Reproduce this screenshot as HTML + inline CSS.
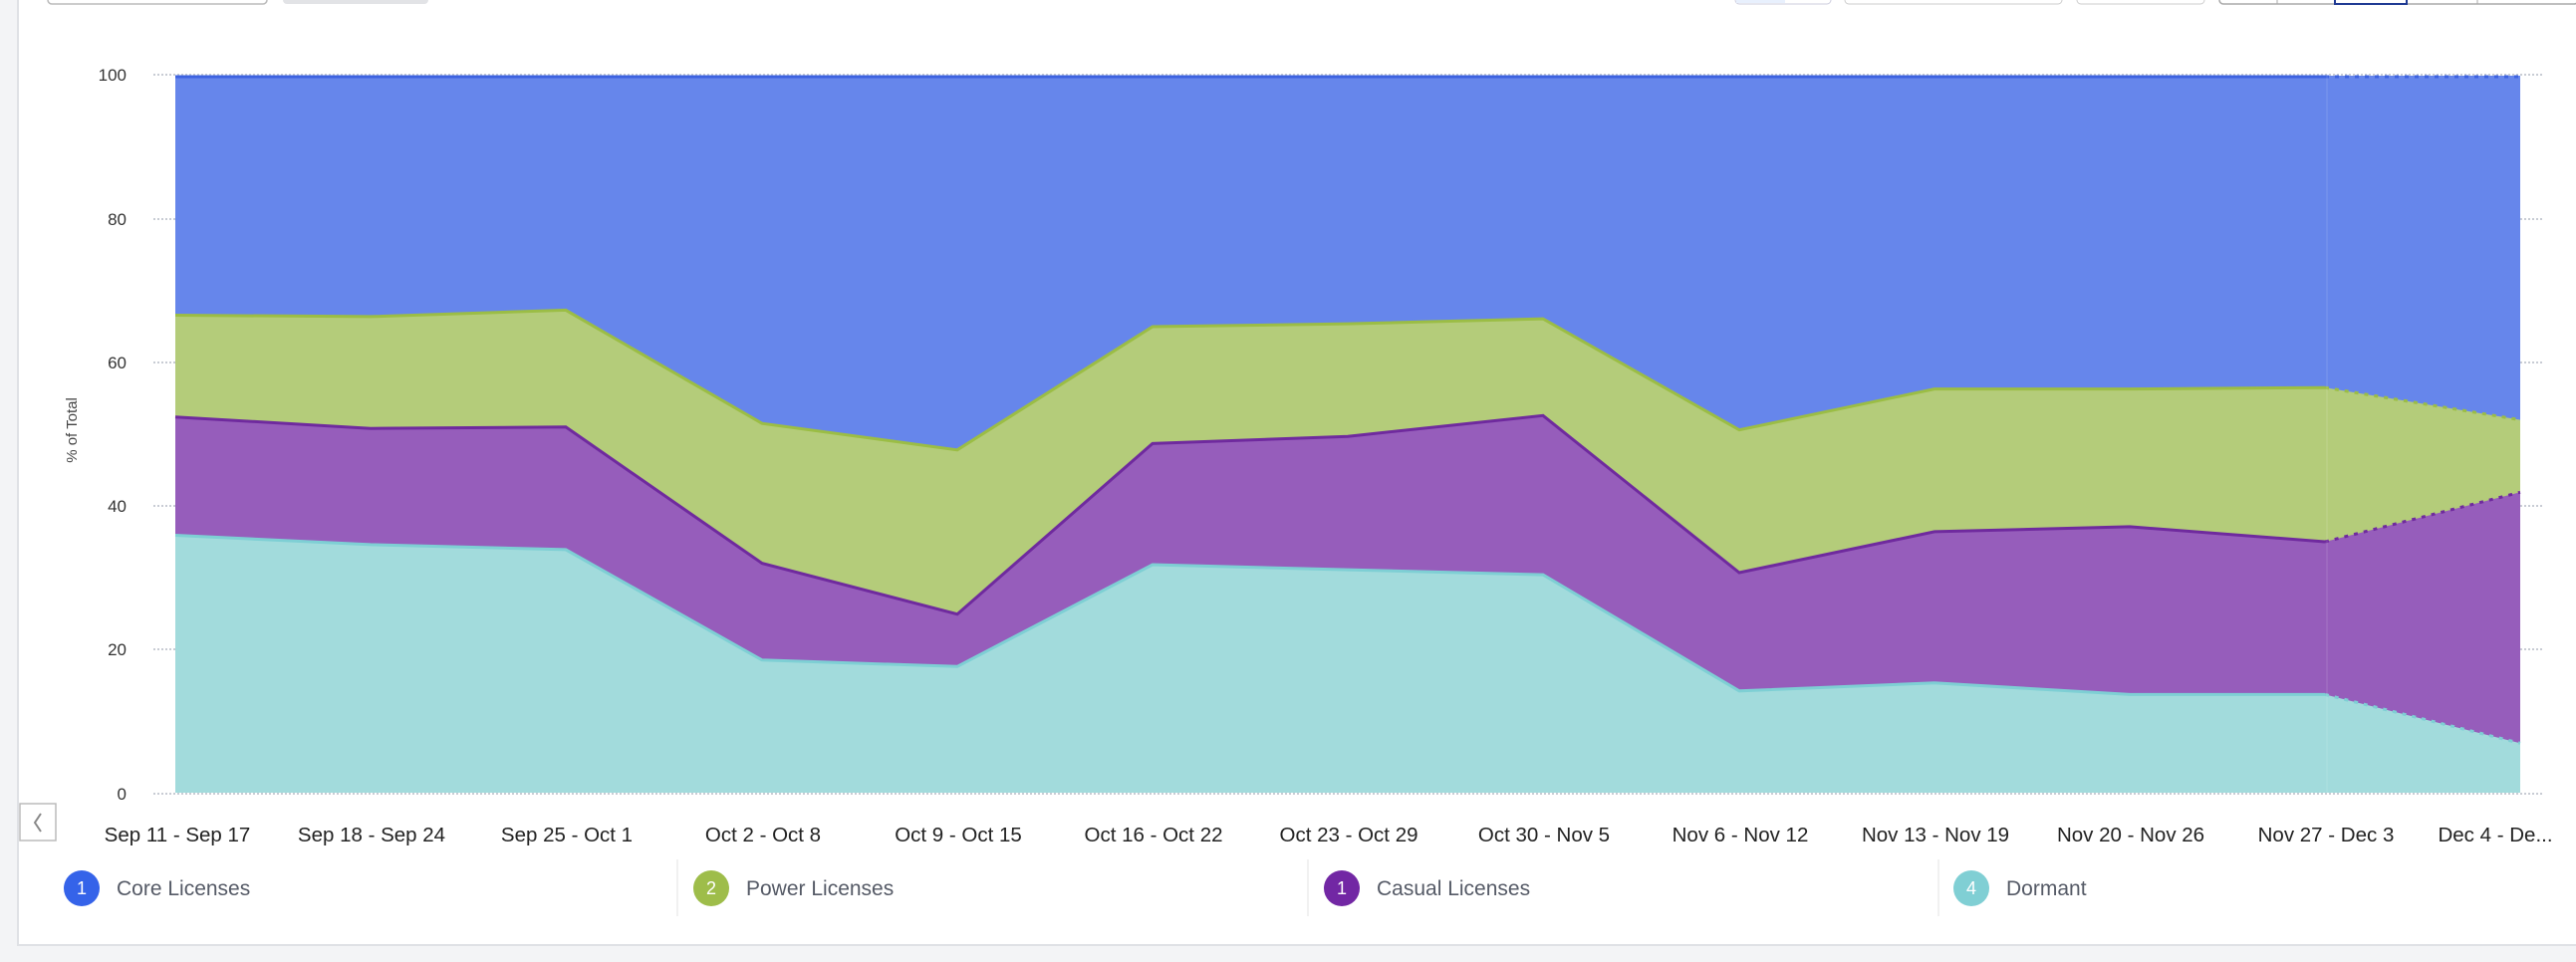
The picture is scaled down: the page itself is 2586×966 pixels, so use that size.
<!DOCTYPE html>
<html><head><meta charset="utf-8"><style>
html,body{margin:0;padding:0;background:#f3f4f6;}
body{width:2586px;height:966px;position:relative;overflow:hidden;font-family:"Liberation Sans",sans-serif;}
</style></head><body>
<svg width="2586" height="966" viewBox="0 0 2586 966" xmlns="http://www.w3.org/2000/svg" style="position:absolute;left:0;top:0">
<rect x="18" y="-2" width="2570" height="951" fill="#fff" stroke="#dfe1e5" stroke-width="2"/>
<rect x="48" y="-10" width="220" height="14" rx="4" fill="#fff" stroke="#bbb" stroke-width="1.5"/>
<rect x="284" y="-10" width="146" height="14" rx="4" fill="#e2e3e6"/>
<rect x="1742" y="-10" width="96" height="14" rx="4" fill="#fff" stroke="#ccd"/>
<rect x="1743" y="-10" width="49" height="13" fill="#e8f0fd"/>
<rect x="1852" y="-10" width="218" height="14" rx="4" fill="#fff" stroke="#ccc"/>
<rect x="2085" y="-10" width="128" height="14" rx="4" fill="#fff" stroke="#ccc"/>
<rect x="2228" y="-10" width="360" height="14" rx="4" fill="#fff" stroke="#aaa" stroke-width="1.5"/>
<line x1="2286" y1="0" x2="2286" y2="4" stroke="#aaa"/><line x1="2344" y1="0" x2="2344" y2="4" stroke="#aaa"/>
<line x1="2416" y1="0" x2="2416" y2="4" stroke="#aaa"/><line x1="2487" y1="0" x2="2487" y2="4" stroke="#aaa"/>
<rect x="2344" y="-10" width="72" height="14" fill="none" stroke="#1f3a93" stroke-width="2"/>
<g stroke="#c8ccd4" stroke-width="2" stroke-dasharray="2,2">
<line x1="154" y1="75" x2="2554" y2="75"/><line x1="154" y1="220" x2="2554" y2="220"/>
<line x1="154" y1="364" x2="2554" y2="364"/><line x1="154" y1="508" x2="2554" y2="508"/>
<line x1="154" y1="652" x2="2554" y2="652"/><line x1="154" y1="797" x2="2554" y2="797"/>
</g>
<g font-size="17" fill="#333" text-anchor="end">
<text x="127" y="81">100</text><text x="127" y="226">80</text><text x="127" y="370">60</text>
<text x="127" y="514">40</text><text x="127" y="658">20</text><text x="127" y="803">0</text>
</g>
<text x="0" y="0" font-size="15" fill="#444" text-anchor="middle" transform="translate(77,432) rotate(-90)">% of Total</text>
<rect x="176" y="76" width="2354" height="720" fill="#6686eb"/>
<line x1="176" y1="77" x2="2334" y2="77" stroke="#3d63e0" stroke-width="3"/>
<line x1="2334" y1="77" x2="2530" y2="77" stroke="#3d63e0" stroke-width="3" stroke-dasharray="4,6"/>
<polygon fill="#b4cc7a" points="176,316.5 372,317.9 568,311.4 765,425.2 961,451.8 1157,328 1353,325.1 1549,320.1 1746,431.7 1942,390.6 2138,390.6 2334,389.2 2530,421.6 2530,796 176,796"/>
<polygon fill="#965dbb" points="176,418.7 372,430.2 568,428.8 765,565.6 961,616.7 1157,445.4 1353,438.2 1549,417.3 1746,575 1942,533.9 2138,528.9 2334,544 2530,494.3 2530,796 176,796"/>
<polygon fill="#a2dbdc" points="176,537.5 372,546.9 568,551.9 765,662.8 961,669.3 1157,567 1353,572.1 1549,577.1 1746,693.8 1942,685.8 2138,697.4 2334,697.4 2530,746.3 2530,796 176,796"/>
<g fill="none" stroke-width="3">
<polyline stroke="#9bbd45" points="176,316.5 372,317.9 568,311.4 765,425.2 961,451.8 1157,328 1353,325.1 1549,320.1 1746,431.7 1942,390.6 2138,390.6 2334,389.2"/>
<polyline stroke="#9bbd45" stroke-dasharray="4,6" points="2334,389.2 2530,421.6"/>
<polyline stroke="#6f2a9e" points="176,418.7 372,430.2 568,428.8 765,565.6 961,616.7 1157,445.4 1353,438.2 1549,417.3 1746,575 1942,533.9 2138,528.9 2334,544"/>
<polyline stroke="#6f2a9e" stroke-dasharray="4,6" points="2334,544 2530,494.3"/>
<polyline stroke="#7ecfd4" points="176,537.5 372,546.9 568,551.9 765,662.8 961,669.3 1157,567 1353,572.1 1549,577.1 1746,693.8 1942,685.8 2138,697.4 2334,697.4"/>
<polyline stroke="#7ecfd4" stroke-dasharray="4,6" points="2334,697.4 2530,746.3"/>
</g>
<line x1="2336" y1="76" x2="2336" y2="796" stroke="#ffffff" stroke-opacity="0.15" stroke-width="1"/>
<rect x="20" y="807" width="36" height="37" fill="#fff" stroke="#bbb" stroke-width="1.5"/>
<polyline points="41,817 35,826 41,835" fill="none" stroke="#888" stroke-width="2"/>
<g font-size="20.5" fill="#222" text-anchor="middle">
<text x="178" y="845">Sep 11 - Sep 17</text><text x="373" y="845">Sep 18 - Sep 24</text>
<text x="569" y="845">Sep 25 - Oct 1</text><text x="766" y="845">Oct 2 - Oct 8</text>
<text x="962" y="845">Oct 9 - Oct 15</text><text x="1158" y="845">Oct 16 - Oct 22</text>
<text x="1354" y="845">Oct 23 - Oct 29</text><text x="1550" y="845">Oct 30 - Nov 5</text>
<text x="1747" y="845">Nov 6 - Nov 12</text><text x="1943" y="845">Nov 13 - Nov 19</text>
<text x="2139" y="845">Nov 20 - Nov 26</text><text x="2335" y="845">Nov 27 - Dec 3</text>
<text x="2505" y="845">Dec 4 - De...</text>
</g>
<g stroke="#ececec" stroke-width="1.5">
<line x1="680" y1="863" x2="680" y2="920"/><line x1="1313" y1="863" x2="1313" y2="920"/><line x1="1946" y1="863" x2="1946" y2="920"/>
</g>
<circle cx="82" cy="892" r="18" fill="#3563e9"/><circle cx="714" cy="892" r="18" fill="#9ebd4a"/>
<circle cx="1347" cy="892" r="18" fill="#7227a4"/><circle cx="1979" cy="892" r="18" fill="#80cfd4"/>
<g font-size="18" fill="#fff" text-anchor="middle">
<text x="82" y="898">1</text><text x="714" y="898">2</text><text x="1347" y="898">1</text><text x="1979" y="898">4</text>
</g>
<g font-size="21" fill="#555a66">
<text x="117" y="899">Core Licenses</text><text x="749" y="899">Power Licenses</text>
<text x="1382" y="899">Casual Licenses</text><text x="2014" y="899">Dormant</text>
</g>
</svg>
</body></html>
